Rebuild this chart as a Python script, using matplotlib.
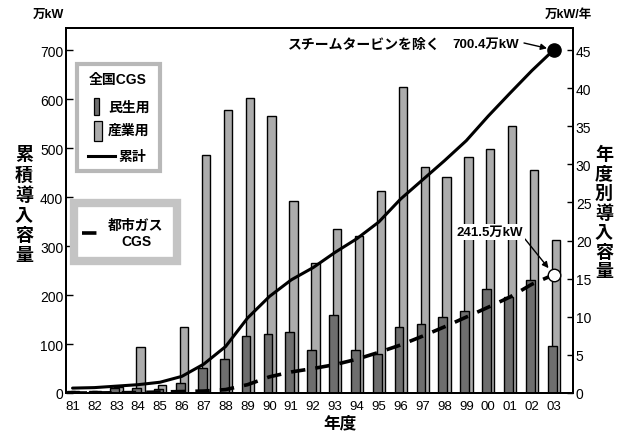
import matplotlib
matplotlib.use('Agg')
import matplotlib.pyplot as plt
from matplotlib.patches import Rectangle
from matplotlib.lines import Line2D
import numpy as np

plt.rcParams['font.family'] = ['Liberation Sans', 'Noto Sans CJK JP', 'DejaVu Sans']

# ---- data ----
years = ['81', '82', '83', '84', '85', '86', '87', '88', '89', '90', '91', '92',
         '93', '94', '95', '96', '97', '98', '99', '00', '01', '02', '03']
minsei = [0.2, 0.2, 0.6, 0.6, 0.5, 1.3, 3.3, 4.5, 7.5, 7.8, 8.0, 5.7,
          10.2, 5.7, 5.1, 8.6, 9.0, 10.0, 10.7, 13.6, 12.6, 14.8, 6.2]
sangyo = [0.3, 0.2, 0.8, 6.1, 1.1, 8.7, 31.2, 37.1, 38.7, 36.3, 25.2, 17.1,
          21.5, 20.6, 26.5, 40.2, 29.7, 28.4, 31.0, 32.0, 35.1, 29.3, 20.1]
cumulative = [10, 11, 14, 17, 22, 34, 59, 95, 153, 197, 231, 256,
              287, 315, 349, 396, 435, 474, 515, 565, 612, 658, 700.4]
gas_cgs = [0, 0, 0.5, 1, 2, 3, 4, 7, 17, 33, 43, 50,
           58, 69, 83, 98, 116, 135, 155, 175, 196, 222, 241.5]
left_ticks = [0, 100, 200, 300, 400, 500, 600, 700]
right_ticks = [0, 5, 10, 15, 20, 25, 30, 35, 40, 45]

W, H = 624, 435
def fx(px):
    return px / W
def fy(py):
    return 1 - py / H

fig = plt.figure(figsize=(W / 100, H / 100), dpi=100)
ax = fig.add_axes([fx(66), fy(394), fx(573) - fx(66), fy(29) - fy(394)])
ax2 = ax.twinx()
ax.set_zorder(ax2.get_zorder() + 1)
ax.patch.set_visible(False)

x = np.arange(len(years))
dark = '#6e6e6e'
light = '#acacac'
ax2.bar(x + 0.10, sangyo, width=0.38, color=light, edgecolor='black', linewidth=1.0, zorder=2)
ax2.bar(x - 0.07, minsei, width=0.40, color=dark, edgecolor='black', linewidth=1.0, zorder=3)

ax.plot(x, cumulative, color='black', lw=2.2, solid_capstyle='round', zorder=4)
ax.plot(x, gas_cgs, color='black', lw=2.6, dashes=(4, 2.8), zorder=4)
ax.plot([x[-1]], [cumulative[-1]], 'o', color='black', markersize=9.5, zorder=6)
ax.plot([x[-1]], [gas_cgs[-1]], 'o', markerfacecolor='white', markeredgecolor='black',
        markersize=9, markeredgewidth=1.0, zorder=6)

ax.set_xlim(-0.3, len(years) - 1 + 0.88)
ax.set_ylim(0, 745)
ax2.set_ylim(0, 47.9)
ax.set_xticks(x)
ax.set_xticklabels(years, fontsize=9.5)
ax.set_yticks(left_ticks)
ax.set_yticklabels([str(v) for v in left_ticks], fontsize=10)
ax2.set_yticks(right_ticks)
ax2.set_yticklabels([str(v) for v in right_ticks], fontsize=10)
ax.tick_params(axis='x', length=0, pad=5)
ax.tick_params(axis='y', direction='in', length=5, width=1, pad=2)
ax2.tick_params(axis='y', direction='in', length=4, width=1, pad=2)
for a in (ax, ax2):
    for s in a.spines.values():
        s.set_linewidth(1.4)

# axis titles
fig.text(fx(24), fy(206), '\n'.join('累積導入容量'), fontsize=13, fontweight='bold',
         ha='center', va='center', linespacing=1.22)
fig.text(fx(604), fy(214), '\n'.join('年度別導入容量'), fontsize=13, fontweight='bold',
         ha='center', va='center', linespacing=1.18)
fig.text(fx(48), fy(15), '万kW', fontsize=9, fontweight='bold', ha='center', va='center')
fig.text(fx(568), fy(15), '万kW/年', fontsize=9, fontweight='bold', ha='center', va='center')
fig.text(fx(340), fy(424), '年度', fontsize=12, fontweight='bold', ha='center', va='center')

# legend box 1
tf = fig.transFigure
fig.add_artist(Rectangle((fx(77), fy(172)), fx(160) - fx(77), fy(65) - fy(172), transform=tf,
                         facecolor='white', edgecolor='#b8b8b8', linewidth=3, zorder=10))
fig.text(fx(118), fy(80), '全国CGS', fontsize=10, fontweight='bold', ha='center', va='center', zorder=11)
fig.add_artist(Rectangle((fx(94), fy(116)), fx(99) - fx(94), fy(99) - fy(116), transform=tf,
                         facecolor=dark, edgecolor='black', linewidth=0.9, zorder=11))
fig.text(fx(108), fy(108), '民生用', fontsize=10, fontweight='bold', ha='left', va='center', zorder=11)
fig.add_artist(Rectangle((fx(94), fy(142)), fx(102) - fx(94), fy(122) - fy(142), transform=tf,
                         facecolor=light, edgecolor='black', linewidth=0.9, zorder=11))
fig.text(fx(108), fy(131), '産業用', fontsize=10, fontweight='bold', ha='left', va='center', zorder=11)
fig.add_artist(Line2D([fx(88), fx(115)], [fy(157), fy(157)], transform=tf, color='black', lw=2.2, zorder=11))
fig.text(fx(118), fy(157), '累計', fontsize=10, fontweight='bold', ha='left', va='center', zorder=11)

# legend box 2
fig.add_artist(Rectangle((fx(74), fy(262)), fx(177) - fx(74), fy(204) - fy(262), transform=tf,
                         facecolor='white', edgecolor='#c4c4c4', linewidth=6, zorder=10))
fig.add_artist(Line2D([fx(82), fx(103)], [fy(234), fy(234)], transform=tf, color='black', lw=2.6,
                      dashes=(4, 2.8), zorder=11))
fig.text(fx(136), fy(226), '都市ガス', fontsize=10, fontweight='bold', ha='center', va='center', zorder=11)
fig.text(fx(136), fy(242), 'CGS', fontsize=10, fontweight='bold', ha='center', va='center', zorder=11)

# annotations
fig.text(fx(288), fy(45), 'スチームタービンを除く', fontsize=10, fontweight='bold', ha='left', va='center')
fig.text(fx(452), fy(45), '700.4万kW', fontsize=9.5, fontweight='bold', ha='left', va='center')
ax.annotate('', xy=(x[-1], cumulative[-1]), xycoords='data',
            xytext=(fx(524), fy(44)), textcoords='figure fraction',
            arrowprops=dict(arrowstyle='-|>', color='black', lw=1.0, shrinkA=0, shrinkB=5,
                            mutation_scale=9), zorder=7)
ax.annotate('', xy=(x[-1], gas_cgs[-1]), xycoords='data',
            xytext=(fx(525), fy(240)), textcoords='figure fraction',
            arrowprops=dict(arrowstyle='-|>', color='black', lw=1.0, shrinkA=0, shrinkB=6,
                            mutation_scale=9), zorder=7)
fig.text(fx(490), fy(233), '241.5万kW', fontsize=9.5, fontweight='bold', ha='center', va='center',
         bbox=dict(facecolor='white', edgecolor='none', pad=1.5), zorder=12)

fig.savefig('out.png', dpi=100)
